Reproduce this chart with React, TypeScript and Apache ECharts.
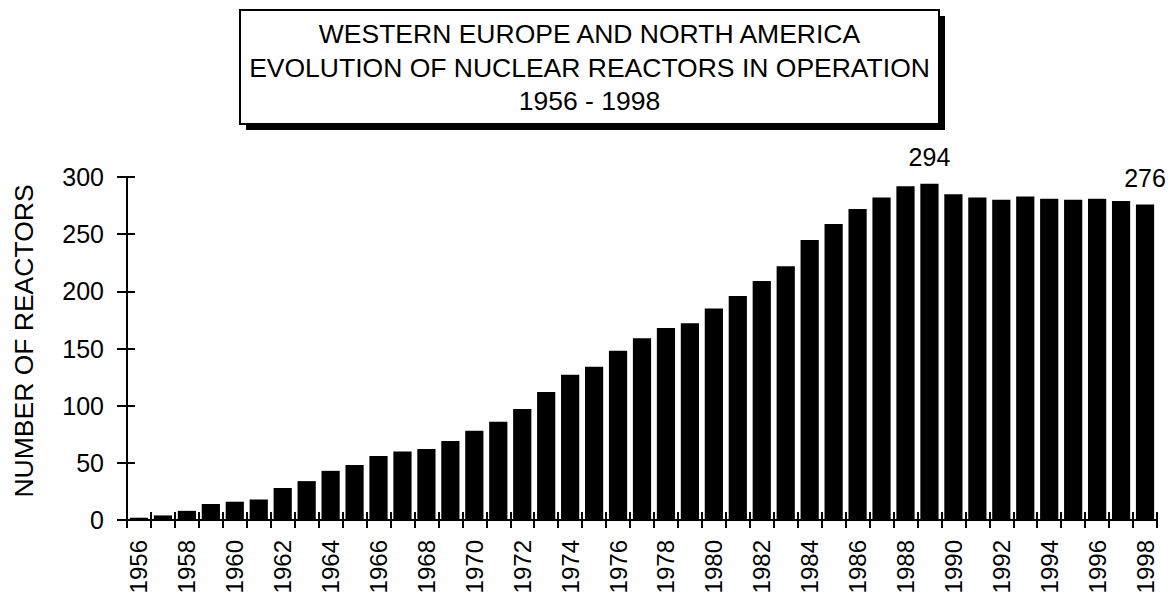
import React, { useEffect, useRef } from "react";
import * as echarts from "echarts";

// Years of operation shown along the horizontal axis
const years = [
  "1956", "1957", "1958", "1959", "1960", "1961", "1962", "1963", "1964", "1965",
  "1966", "1967", "1968", "1969", "1970", "1971", "1972", "1973", "1974", "1975",
  "1976", "1977", "1978", "1979", "1980", "1981", "1982", "1983", "1984", "1985",
  "1986", "1987", "1988", "1989", "1990", "1991", "1992", "1993", "1994", "1995",
  "1996", "1997", "1998",
];

// Reactors in operation at the end of each year
const reactors = [
  2, 4, 8, 14, 16, 18, 28, 34, 43, 48,
  56, 60, 62, 69, 78, 86, 97, 112, 127, 134,
  148, 159, 168, 172, 185, 196, 209, 222, 245, 259,
  272, 282, 292, 294, 285, 282, 280, 283, 281, 280,
  281, 279, 276,
];

// Bars that carry their value above them
const labelledYears = ["1989", "1998"];

const titleLines = [
  "WESTERN EUROPE AND NORTH AMERICA",
  "EVOLUTION OF NUCLEAR REACTORS IN OPERATION",
  "1956 - 1998",
];

const yAxisTitle = "NUMBER OF REACTORS";

const FONT = "'Liberation Sans', Arial, Helvetica, sans-serif";
const INK = "#000000";

export default function App() {
  const ref = useRef<HTMLDivElement>(null);

  useEffect(() => {
    if (!ref.current) return;
    const chart = echarts.init(ref.current, null, { renderer: "svg" });

    const barData = reactors.map((v, i) =>
      labelledYears.includes(years[i]) ? { value: v, label: { show: true } } : v
    );

    const tickStyle = { color: INK, width: 2 };

    const titleBox = { x: 240, y: 10, width: 699, height: 114 };
    const titleCenterX = titleBox.x + titleBox.width / 2;
    const titleLineY = [34, 67.5, 101];

    chart.setOption({
      animation: false,
      backgroundColor: "#ffffff",
      textStyle: { fontFamily: FONT },
      grid: { left: 127, right: 18, top: 177, bottom: 80, containLabel: false },
      xAxis: [
        {
          type: "category",
          data: years,
          position: "bottom",
          boundaryGap: true,
          axisLine: { show: true, lineStyle: tickStyle },
          axisTick: { show: true, interval: 0, length: 8, lineStyle: tickStyle },
          axisLabel: {
            interval: 1,
            rotate: 90,
            margin: 20,
            fontSize: 24,
            color: INK,
            fontFamily: FONT,
          },
          splitLine: { show: false },
        },
        {
          // inner half of the crossing ticks
          type: "category",
          data: years,
          position: "bottom",
          boundaryGap: true,
          axisLine: { show: false },
          axisTick: { show: true, inside: true, interval: 0, length: 8, lineStyle: tickStyle },
          axisLabel: { show: false },
          splitLine: { show: false },
        },
      ],
      yAxis: [
        {
          type: "value",
          position: "left",
          min: 0,
          max: 300,
          interval: 50,
          axisLine: { show: true, lineStyle: tickStyle },
          axisTick: { show: true, length: 10, lineStyle: tickStyle },
          axisLabel: { margin: 23, fontSize: 25, color: INK, fontFamily: FONT },
          splitLine: { show: false },
        },
        {
          // inner half of the crossing ticks
          type: "value",
          position: "left",
          min: 0,
          max: 300,
          interval: 50,
          axisLine: { show: false },
          axisTick: { show: true, inside: true, length: 8, lineStyle: tickStyle },
          axisLabel: { show: false },
          splitLine: { show: false },
        },
      ],
      series: [
        {
          type: "bar",
          xAxisIndex: 0,
          yAxisIndex: 0,
          data: barData,
          barCategoryGap: "24%",
          itemStyle: { color: INK },
          label: {
            show: false,
            position: "top",
            distance: 14,
            fontSize: 25,
            color: INK,
            fontFamily: FONT,
          },
        },
      ],
      graphic: [
        {
          type: "rect",
          shape: { x: titleBox.x + 6, y: titleBox.y + 6, width: titleBox.width, height: titleBox.height },
          style: { fill: INK },
          z: 100,
        },
        {
          type: "rect",
          shape: { ...titleBox },
          style: { fill: "#ffffff", stroke: INK, lineWidth: 2 },
          z: 101,
        },
        ...titleLines.map((t, i) => ({
          type: "text",
          x: titleCenterX,
          y: titleLineY[i],
          z: 102,
          style: {
            text: t,
            fill: INK,
            font: `26.5px ${FONT}`,
            align: "center",
            verticalAlign: "middle",
            textAlign: "center",
            textVerticalAlign: "middle",
          },
        })),
        {
          type: "text",
          x: 24,
          y: 341,
          rotation: Math.PI / 2,
          z: 102,
          style: {
            text: yAxisTitle,
            fill: INK,
            font: `26.5px ${FONT}`,
            align: "center",
            verticalAlign: "middle",
            textAlign: "center",
            textVerticalAlign: "middle",
          },
        },
      ],
    });

    return () => {
      chart.dispose();
    };
  }, []);

  return (
    <div
      ref={ref}
      style={{ position: "fixed", left: 0, top: 0, width: 1175, height: 600 }}
    />
  );
}
